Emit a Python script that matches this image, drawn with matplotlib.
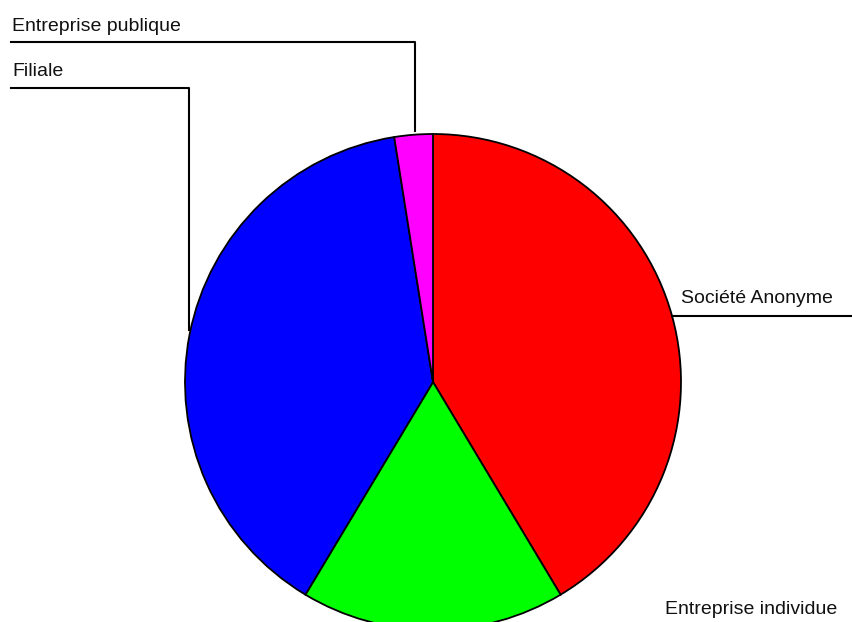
import matplotlib.pyplot as plt

# label of the green slice is shown cut short in the source image
labels = ['Société Anonyme', 'Entreprise individue', 'Filiale', 'Entreprise publique']
shares = [41.4, 17.2, 38.9, 2.5]
colors = ['#ff0000', '#00ff00', '#0000ff', '#ff00ff']

W, H = 853, 622

fig = plt.figure(figsize=(W / 100, H / 100), dpi=100)
ax = fig.add_axes([0, 0, 1, 1])

# pie in pixel coordinates (y measured from bottom)
cx, cy, r = 433, H - 382, 248
ax.pie(shares, colors=colors, startangle=90, counterclock=False,
       center=(cx, cy), radius=r, frame=True,
       wedgeprops=dict(edgecolor='black', linewidth=1.3))
ax.set_xlim(0, W)
ax.set_ylim(0, H)
ax.axis('off')

font = dict(family='Liberation Sans', fontsize=14, color='#111111')
lw = 1.5

# Entreprise publique
ax.text(12, H - 31, labels[3], ha='left', va='baseline', **font)
ax.plot([11, 415, 415], [H - 42, H - 42, H - 131], color='black', lw=lw)

# Filiale
ax.text(12, H - 76, labels[2], ha='left', va='baseline', **font)
ax.plot([11, 189, 189], [H - 88, H - 88, H - 330], color='black', lw=lw)

# Société Anonyme
ax.text(681, H - 303, labels[0], ha='left', va='baseline', **font)
ax.plot([672, W], [H - 316, H - 316], color='black', lw=lw)

# Entreprise individuelle
ax.text(665, H - 614, labels[1], ha='left', va='baseline', **font)

fig.savefig('out.png', dpi=100)
